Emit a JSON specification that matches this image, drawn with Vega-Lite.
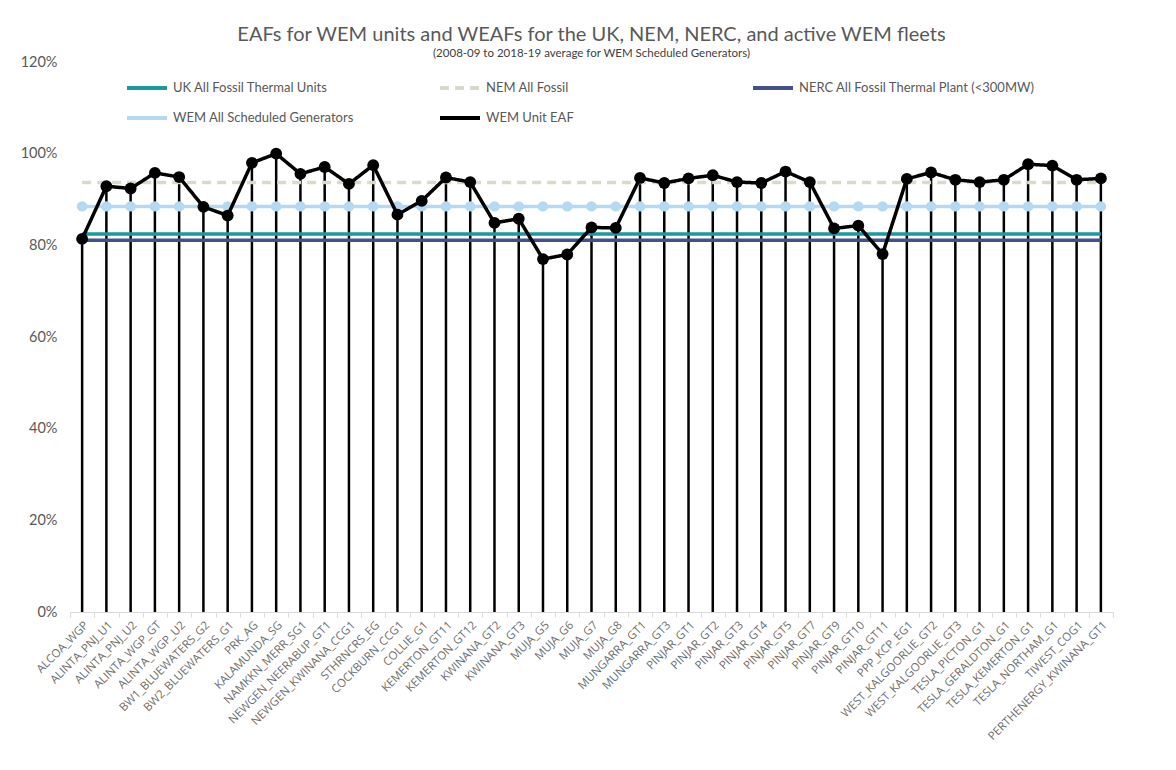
{
  "$schema": "https://vega.github.io/schema/vega-lite/v6.json",
  "width": 1043,
  "height": 550,
  "autosize": {"type": "none"},
  "padding": {"left": 70, "top": 62, "right": 63, "bottom": 158},
  "background": "white",
  "config": {"view": {"stroke": null}, "font": "Lato"},
  "title": {
    "text": "EAFs for WEM units and WEAFs for the UK, NEM, NERC, and active WEM fleets",
    "subtitle": "(2008-09 to 2018-19 average for WEM Scheduled Generators)",
    "fontSize": 20,
    "fontWeight": "normal",
    "font": "Lato",
    "color": "#595959",
    "subtitleFontSize": 11.5,
    "subtitleFont": "Lato",
    "subtitleColor": "#404040",
    "anchor": "middle",
    "offset": -5,
    "subtitlePadding": 3
  },
  "data": {
    "values": [
      {"unit": "ALCOA_WGP", "WEM Unit EAF": 81.4, "UK All Fossil Thermal Units": 82.5, "NEM All Fossil": 93.7, "NERC All Fossil Thermal Plant (<300MW)": 81.1, "WEM All Scheduled Generators": 88.5},
      {"unit": "ALINTA_PNJ_U1", "WEM Unit EAF": 92.9, "UK All Fossil Thermal Units": 82.5, "NEM All Fossil": 93.7, "NERC All Fossil Thermal Plant (<300MW)": 81.1, "WEM All Scheduled Generators": 88.5},
      {"unit": "ALINTA_PNJ_U2", "WEM Unit EAF": 92.4, "UK All Fossil Thermal Units": 82.5, "NEM All Fossil": 93.7, "NERC All Fossil Thermal Plant (<300MW)": 81.1, "WEM All Scheduled Generators": 88.5},
      {"unit": "ALINTA_WGP_GT", "WEM Unit EAF": 95.8, "UK All Fossil Thermal Units": 82.5, "NEM All Fossil": 93.7, "NERC All Fossil Thermal Plant (<300MW)": 81.1, "WEM All Scheduled Generators": 88.5},
      {"unit": "ALINTA_WGP_U2", "WEM Unit EAF": 94.9, "UK All Fossil Thermal Units": 82.5, "NEM All Fossil": 93.7, "NERC All Fossil Thermal Plant (<300MW)": 81.1, "WEM All Scheduled Generators": 88.5},
      {"unit": "BW1_BLUEWATERS_G2", "WEM Unit EAF": 88.4, "UK All Fossil Thermal Units": 82.5, "NEM All Fossil": 93.7, "NERC All Fossil Thermal Plant (<300MW)": 81.1, "WEM All Scheduled Generators": 88.5},
      {"unit": "BW2_BLUEWATERS_G1", "WEM Unit EAF": 86.5, "UK All Fossil Thermal Units": 82.5, "NEM All Fossil": 93.7, "NERC All Fossil Thermal Plant (<300MW)": 81.1, "WEM All Scheduled Generators": 88.5},
      {"unit": "PRK_AG", "WEM Unit EAF": 98.0, "UK All Fossil Thermal Units": 82.5, "NEM All Fossil": 93.7, "NERC All Fossil Thermal Plant (<300MW)": 81.1, "WEM All Scheduled Generators": 88.5},
      {"unit": "KALAMUNDA_SG", "WEM Unit EAF": 100.0, "UK All Fossil Thermal Units": 82.5, "NEM All Fossil": 93.7, "NERC All Fossil Thermal Plant (<300MW)": 81.1, "WEM All Scheduled Generators": 88.5},
      {"unit": "NAMKKN_MERR_SG1", "WEM Unit EAF": 95.6, "UK All Fossil Thermal Units": 82.5, "NEM All Fossil": 93.7, "NERC All Fossil Thermal Plant (<300MW)": 81.1, "WEM All Scheduled Generators": 88.5},
      {"unit": "NEWGEN_NEERABUP_GT1", "WEM Unit EAF": 97.1, "UK All Fossil Thermal Units": 82.5, "NEM All Fossil": 93.7, "NERC All Fossil Thermal Plant (<300MW)": 81.1, "WEM All Scheduled Generators": 88.5},
      {"unit": "NEWGEN_KWINANA_CCG1", "WEM Unit EAF": 93.4, "UK All Fossil Thermal Units": 82.5, "NEM All Fossil": 93.7, "NERC All Fossil Thermal Plant (<300MW)": 81.1, "WEM All Scheduled Generators": 88.5},
      {"unit": "STHRNCRS_EG", "WEM Unit EAF": 97.5, "UK All Fossil Thermal Units": 82.5, "NEM All Fossil": 93.7, "NERC All Fossil Thermal Plant (<300MW)": 81.1, "WEM All Scheduled Generators": 88.5},
      {"unit": "COCKBURN_CCG1", "WEM Unit EAF": 86.7, "UK All Fossil Thermal Units": 82.5, "NEM All Fossil": 93.7, "NERC All Fossil Thermal Plant (<300MW)": 81.1, "WEM All Scheduled Generators": 88.5},
      {"unit": "COLLIE_G1", "WEM Unit EAF": 89.7, "UK All Fossil Thermal Units": 82.5, "NEM All Fossil": 93.7, "NERC All Fossil Thermal Plant (<300MW)": 81.1, "WEM All Scheduled Generators": 88.5},
      {"unit": "KEMERTON_GT11", "WEM Unit EAF": 94.8, "UK All Fossil Thermal Units": 82.5, "NEM All Fossil": 93.7, "NERC All Fossil Thermal Plant (<300MW)": 81.1, "WEM All Scheduled Generators": 88.5},
      {"unit": "KEMERTON_GT12", "WEM Unit EAF": 93.8, "UK All Fossil Thermal Units": 82.5, "NEM All Fossil": 93.7, "NERC All Fossil Thermal Plant (<300MW)": 81.1, "WEM All Scheduled Generators": 88.5},
      {"unit": "KWINANA_GT2", "WEM Unit EAF": 84.9, "UK All Fossil Thermal Units": 82.5, "NEM All Fossil": 93.7, "NERC All Fossil Thermal Plant (<300MW)": 81.1, "WEM All Scheduled Generators": 88.5},
      {"unit": "KWINANA_GT3", "WEM Unit EAF": 85.8, "UK All Fossil Thermal Units": 82.5, "NEM All Fossil": 93.7, "NERC All Fossil Thermal Plant (<300MW)": 81.1, "WEM All Scheduled Generators": 88.5},
      {"unit": "MUJA_G5", "WEM Unit EAF": 77.0, "UK All Fossil Thermal Units": 82.5, "NEM All Fossil": 93.7, "NERC All Fossil Thermal Plant (<300MW)": 81.1, "WEM All Scheduled Generators": 88.5},
      {"unit": "MUJA_G6", "WEM Unit EAF": 78.0, "UK All Fossil Thermal Units": 82.5, "NEM All Fossil": 93.7, "NERC All Fossil Thermal Plant (<300MW)": 81.1, "WEM All Scheduled Generators": 88.5},
      {"unit": "MUJA_G7", "WEM Unit EAF": 83.9, "UK All Fossil Thermal Units": 82.5, "NEM All Fossil": 93.7, "NERC All Fossil Thermal Plant (<300MW)": 81.1, "WEM All Scheduled Generators": 88.5},
      {"unit": "MUJA_G8", "WEM Unit EAF": 83.8, "UK All Fossil Thermal Units": 82.5, "NEM All Fossil": 93.7, "NERC All Fossil Thermal Plant (<300MW)": 81.1, "WEM All Scheduled Generators": 88.5},
      {"unit": "MUNGARRA_GT1", "WEM Unit EAF": 94.7, "UK All Fossil Thermal Units": 82.5, "NEM All Fossil": 93.7, "NERC All Fossil Thermal Plant (<300MW)": 81.1, "WEM All Scheduled Generators": 88.5},
      {"unit": "MUNGARRA_GT3", "WEM Unit EAF": 93.6, "UK All Fossil Thermal Units": 82.5, "NEM All Fossil": 93.7, "NERC All Fossil Thermal Plant (<300MW)": 81.1, "WEM All Scheduled Generators": 88.5},
      {"unit": "PINJAR_GT1", "WEM Unit EAF": 94.6, "UK All Fossil Thermal Units": 82.5, "NEM All Fossil": 93.7, "NERC All Fossil Thermal Plant (<300MW)": 81.1, "WEM All Scheduled Generators": 88.5},
      {"unit": "PINJAR_GT2", "WEM Unit EAF": 95.3, "UK All Fossil Thermal Units": 82.5, "NEM All Fossil": 93.7, "NERC All Fossil Thermal Plant (<300MW)": 81.1, "WEM All Scheduled Generators": 88.5},
      {"unit": "PINJAR_GT3", "WEM Unit EAF": 93.8, "UK All Fossil Thermal Units": 82.5, "NEM All Fossil": 93.7, "NERC All Fossil Thermal Plant (<300MW)": 81.1, "WEM All Scheduled Generators": 88.5},
      {"unit": "PINJAR_GT4", "WEM Unit EAF": 93.6, "UK All Fossil Thermal Units": 82.5, "NEM All Fossil": 93.7, "NERC All Fossil Thermal Plant (<300MW)": 81.1, "WEM All Scheduled Generators": 88.5},
      {"unit": "PINJAR_GT5", "WEM Unit EAF": 96.1, "UK All Fossil Thermal Units": 82.5, "NEM All Fossil": 93.7, "NERC All Fossil Thermal Plant (<300MW)": 81.1, "WEM All Scheduled Generators": 88.5},
      {"unit": "PINJAR_GT7", "WEM Unit EAF": 93.8, "UK All Fossil Thermal Units": 82.5, "NEM All Fossil": 93.7, "NERC All Fossil Thermal Plant (<300MW)": 81.1, "WEM All Scheduled Generators": 88.5},
      {"unit": "PINJAR_GT9", "WEM Unit EAF": 83.7, "UK All Fossil Thermal Units": 82.5, "NEM All Fossil": 93.7, "NERC All Fossil Thermal Plant (<300MW)": 81.1, "WEM All Scheduled Generators": 88.5},
      {"unit": "PINJAR_GT10", "WEM Unit EAF": 84.3, "UK All Fossil Thermal Units": 82.5, "NEM All Fossil": 93.7, "NERC All Fossil Thermal Plant (<300MW)": 81.1, "WEM All Scheduled Generators": 88.5},
      {"unit": "PINJAR_GT11", "WEM Unit EAF": 78.1, "UK All Fossil Thermal Units": 82.5, "NEM All Fossil": 93.7, "NERC All Fossil Thermal Plant (<300MW)": 81.1, "WEM All Scheduled Generators": 88.5},
      {"unit": "PPP_KCP_EG1", "WEM Unit EAF": 94.5, "UK All Fossil Thermal Units": 82.5, "NEM All Fossil": 93.7, "NERC All Fossil Thermal Plant (<300MW)": 81.1, "WEM All Scheduled Generators": 88.5},
      {"unit": "WEST_KALGOORLIE_GT2", "WEM Unit EAF": 95.9, "UK All Fossil Thermal Units": 82.5, "NEM All Fossil": 93.7, "NERC All Fossil Thermal Plant (<300MW)": 81.1, "WEM All Scheduled Generators": 88.5},
      {"unit": "WEST_KALGOORLIE_GT3", "WEM Unit EAF": 94.3, "UK All Fossil Thermal Units": 82.5, "NEM All Fossil": 93.7, "NERC All Fossil Thermal Plant (<300MW)": 81.1, "WEM All Scheduled Generators": 88.5},
      {"unit": "TESLA_PICTON_G1", "WEM Unit EAF": 93.8, "UK All Fossil Thermal Units": 82.5, "NEM All Fossil": 93.7, "NERC All Fossil Thermal Plant (<300MW)": 81.1, "WEM All Scheduled Generators": 88.5},
      {"unit": "TESLA_GERALDTON_G1", "WEM Unit EAF": 94.3, "UK All Fossil Thermal Units": 82.5, "NEM All Fossil": 93.7, "NERC All Fossil Thermal Plant (<300MW)": 81.1, "WEM All Scheduled Generators": 88.5},
      {"unit": "TESLA_KEMERTON_G1", "WEM Unit EAF": 97.7, "UK All Fossil Thermal Units": 82.5, "NEM All Fossil": 93.7, "NERC All Fossil Thermal Plant (<300MW)": 81.1, "WEM All Scheduled Generators": 88.5},
      {"unit": "TESLA_NORTHAM_G1", "WEM Unit EAF": 97.4, "UK All Fossil Thermal Units": 82.5, "NEM All Fossil": 93.7, "NERC All Fossil Thermal Plant (<300MW)": 81.1, "WEM All Scheduled Generators": 88.5},
      {"unit": "TIWEST_COG1", "WEM Unit EAF": 94.3, "UK All Fossil Thermal Units": 82.5, "NEM All Fossil": 93.7, "NERC All Fossil Thermal Plant (<300MW)": 81.1, "WEM All Scheduled Generators": 88.5},
      {"unit": "PERTHENERGY_KWINANA_GT1", "WEM Unit EAF": 94.6, "UK All Fossil Thermal Units": 82.5, "NEM All Fossil": 93.7, "NERC All Fossil Thermal Plant (<300MW)": 81.1, "WEM All Scheduled Generators": 88.5}
    ]
  },
  "transform": [
    {"fold": ["UK All Fossil Thermal Units", "NEM All Fossil", "NERC All Fossil Thermal Plant (<300MW)", "WEM All Scheduled Generators", "WEM Unit EAF"], "as": ["series", "value"]}
  ],
  "encoding": {
    "x": {
      "field": "unit",
      "type": "nominal",
      "sort": null,
      "scale": {"type": "band", "paddingInner": 0, "paddingOuter": 0},
      "axis": {
        "title": null,
        "labelAngle": -45,
        "labelFontSize": 11.5,
        "labelFont": "Open Sans",
        "labelColor": "#6e6e6e",
        "domainColor": "#d9d9d9",
        "domainWidth": 1,
        "tickColor": "#d9d9d9",
        "tickSize": 5,
        "tickBand": "extent",
        "labelPadding": 2,
        "labelLimit": 300
      }
    },
    "y": {
      "field": "value",
      "type": "quantitative",
      "scale": {"domain": [0, 120], "nice": false, "zero": true},
      "axis": {
        "title": null,
        "values": [0, 20, 40, 60, 80, 100, 120],
        "labelExpr": "datum.value + '%'",
        "domain": false,
        "ticks": false,
        "grid": false,
        "labelFontSize": 14.5,
        "labelFont": "Lato",
        "labelColor": "#595959",
        "labelPadding": 13
      }
    }
  },
  "layer": [
    {
      "transform": [{"filter": "datum.series === 'WEM Unit EAF'"}],
      "mark": {"type": "rule", "color": "black", "strokeWidth": 2.5},
      "encoding": {"y2": {"datum": 0}}
    },
    {
      "transform": [{"filter": "datum.series !== 'WEM Unit EAF'"}],
      "mark": {"type": "line", "strokeWidth": 3.5},
      "encoding": {
        "color": {
          "field": "series",
          "type": "nominal",
          "scale": {
            "domain": ["UK All Fossil Thermal Units", "NEM All Fossil", "NERC All Fossil Thermal Plant (<300MW)", "WEM All Scheduled Generators", "WEM Unit EAF"],
            "range": ["#1a9a9a", "#d9d9cc", "#44508a", "#b4d9f0", "#000000"]
          },
          "legend": {
            "title": null,
            "orient": "none",
            "direction": "horizontal",
            "legendX": 55,
            "legendY": 4,
            "columns": 3,
            "gridAlign": "all",
            "columnPadding": 23,
            "rowPadding": -18,
            "symbolType": "stroke",
            "symbolSize": 1600,
            "symbolStrokeWidth": 4,
            "labelFontSize": 13,
            "labelFont": "Lato",
            "labelColor": "#595959",
            "labelOffset": 4,
            "labelLimit": 400
          }
        },
        "strokeDash": {
          "field": "series",
          "type": "nominal",
          "scale": {
            "domain": ["UK All Fossil Thermal Units", "NEM All Fossil", "NERC All Fossil Thermal Plant (<300MW)", "WEM All Scheduled Generators", "WEM Unit EAF"],
            "range": [[1, 0], [9, 6], [1, 0], [1, 0], [1, 0]]
          },
          "legend": {
            "title": null,
            "orient": "none",
            "direction": "horizontal",
            "legendX": 55,
            "legendY": 4,
            "columns": 3,
            "gridAlign": "all",
            "columnPadding": 23,
            "rowPadding": -18,
            "symbolType": "stroke",
            "symbolSize": 1600,
            "symbolStrokeWidth": 4,
            "labelFontSize": 13,
            "labelFont": "Lato",
            "labelColor": "#595959",
            "labelOffset": 4,
            "labelLimit": 400
          }
        }
      }
    },
    {
      "transform": [{"filter": "datum.series === 'WEM All Scheduled Generators'"}],
      "mark": {"type": "circle", "size": 110, "color": "#b4d9f0", "opacity": 1}
    },
    {
      "transform": [{"filter": "datum.series === 'WEM Unit EAF'"}],
      "mark": {"type": "line", "strokeWidth": 3.5},
      "encoding": {
        "color": {"field": "series", "type": "nominal"},
        "strokeDash": {"field": "series", "type": "nominal"}
      }
    },
    {
      "transform": [{"filter": "datum.series === 'WEM Unit EAF'"}],
      "mark": {"type": "circle", "size": 140, "color": "black", "opacity": 1}
    }
  ]
}
